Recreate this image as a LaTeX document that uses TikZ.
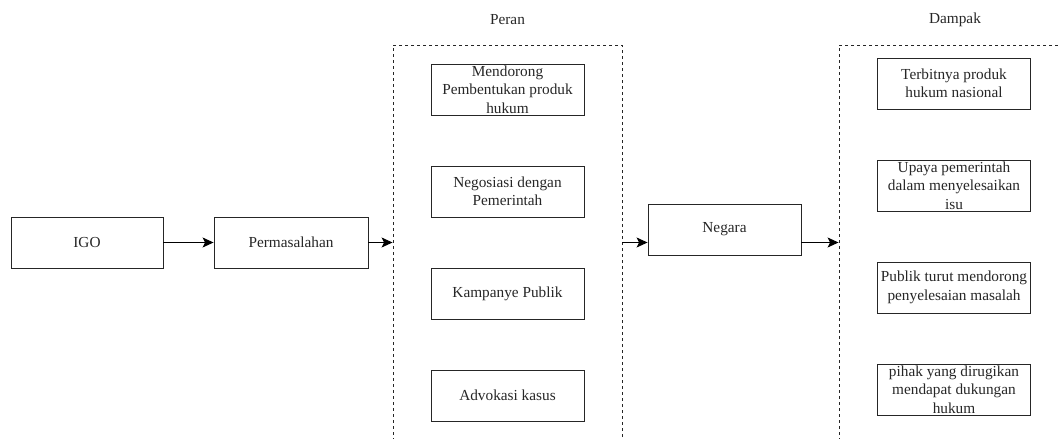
\documentclass[tikz,border=0pt]{standalone}
\usepackage{fontspec}
\setmainfont{Liberation Serif}
\usetikzlibrary{arrows.meta}
\definecolor{txtc}{HTML}{262626}
\tikzset{
  boxnode/.style={draw=black!85, line width=0.9pt, minimum width=153pt, minimum height=51pt, inner sep=0pt},
  txtnode/.style={align=center, text=txtc, font=\fontsize{15.3}{18.4}\selectfont, inner sep=0pt},
  groupnode/.style={draw=black!85, line width=0.9pt, dash pattern=on 3pt off 3pt, inner sep=0pt},
  arr/.style={draw=black, line width=1.1pt, -{Stealth[length=11pt,width=10pt,inset=2.5pt]}}
}
\begin{document}
\begin{tikzpicture}[x=1pt,y=-1pt]
\useasboundingbox (0,0) rectangle (1058,439);
\clip (0,0) rectangle (1058,439);
% group frames
\node[groupnode, minimum width=229pt, minimum height=415pt] (peran) at (507.5,252.5) {};
\node[groupnode, minimum width=241pt, minimum height=415pt] (dampak) at (959.5,252.5) {};
\node[txtnode] (peranlbl) at (507.5,20) {Peran};
\node[txtnode] (dampaklbl) at (955,20) {Dampak};
% main chain
\node[boxnode, minimum width=152pt] (igo) at (87,242.5) {};
\node[txtnode] (igot) at (igo) {IGO};
\node[boxnode, minimum width=154pt] (perm) at (291,242.5) {};
\node[txtnode] (permt) at (perm) {Permasalahan};
\node[boxnode] (negara) at (724.5,229.5) {};
\node[txtnode] (negarat) at (negara) {Negara};
% Peran boxes
\node[boxnode] (p1) at (507.5,89.5) {};
\node[txtnode] (p1t) at (p1) {Mendorong\\Pembentukan produk\\hukum};
\node[boxnode] (p2) at (507.5,191.5) {};
\node[txtnode] (p2t) at (p2) {Negosiasi dengan\\Pemerintah};
\node[boxnode] (p3) at (507.5,293.5) {};
\node[txtnode] (p3t) at (p3) {Kampanye Publik};
\node[boxnode] (p4) at (507.5,395.5) {};
\node[txtnode] (p4t) at (p4) {Advokasi kasus};
% Dampak boxes
\node[boxnode] (d1) at (954,83.5) {};
\node[txtnode] (d1t) at (d1) {Terbitnya produk\\hukum nasional};
\node[boxnode] (d2) at (954,185.5) {};
\node[txtnode] (d2t) at (d2) {Upaya pemerintah\\dalam menyelesaikan\\isu};
\node[boxnode] (d3) at (954,287.5) {};
\node[txtnode] (d3t) at (d3) {Publik turut mendorong\\penyelesaian masalah};
\node[boxnode] (d4) at (954,389.5) {};
\node[txtnode] (d4t) at (d4) {pihak yang dirugikan\\mendapat dukungan\\hukum};
% connectors
\coordinate (a1) at (perm.east -| peran.west);
\coordinate (a2s) at (perm.east -| peran.east);
\coordinate (a2e) at (perm.east -| negara.west);
\coordinate (a3s) at (perm.east -| negara.east);
\coordinate (a3e) at (perm.east -| dampak.west);
\draw[arr] (igo.east) -- (perm.west);
\draw[arr] (perm.east) -- (a1);
\draw[arr] (a2s) -- (a2e);
\draw[arr] (a3s) -- (a3e);
\end{tikzpicture}
\end{document}
